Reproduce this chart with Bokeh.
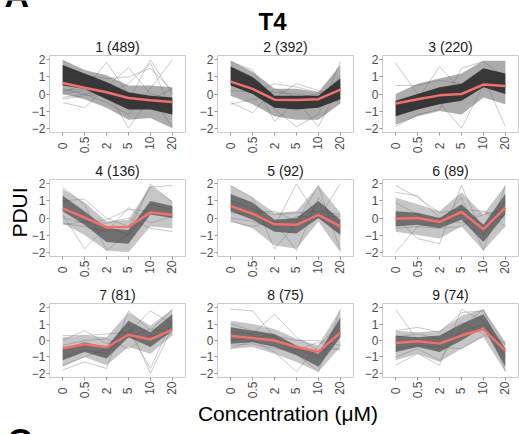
import math
from bokeh.plotting import figure
from bokeh.layouts import column, row
from bokeh.models import Range1d, FixedTicker, Label
from bokeh.embed import file_html
from bokeh.resources import INLINE

# ---------------- data ----------------
concentrations = ["0", "0.5", "2", "5", "10", "20"]
y_ticks = [-2, -1, 0, 1, 2]
y_tick_labels = ["\u22122", "\u22121", "0", "1", "2"]
cluster_ids = [1, 2, 3, 4, 5, 6, 7, 8, 9]
cluster_sizes = [489, 392, 220, 136, 92, 89, 81, 75, 74]

cluster_means = [
    [0.64, 0.37, 0.10, -0.23, -0.37, -0.47],
    [0.72, 0.30, -0.33, -0.35, -0.30, 0.25],
    [-0.55, -0.31, -0.08, 0.00, 0.55, 0.47],
    [0.56, 0.02, -0.54, -0.52, 0.33, 0.17],
    [0.70, 0.25, -0.37, -0.40, 0.18, -0.49],
    [-0.05, 0.00, -0.23, 0.35, -0.66, 0.60],
    [-0.47, -0.23, -0.41, 0.35, 0.06, 0.66],
    [0.27, 0.15, 0.00, -0.40, -0.68, 0.47],
    [-0.15, -0.05, -0.19, 0.30, 0.68, -0.62],
]
core_high = [
    [1.7, 1.2, 0.7, 0.1, -0.1, -0.2],
    [1.6, 1.0, -0.1, -0.1, -0.1, 0.9],
    [-0.4, 0.0, 0.4, 0.6, 1.5, 1.2],
    [1.3, 0.4, -0.6, -0.7, 1.0, 0.7],
    [1.4, 0.9, -0.1, 0.0, 1.0, -0.1],
    [0.4, 0.3, 0.0, 0.8, -0.4, 1.4],
    [-0.5, -0.1, -0.4, 1.2, 0.5, 1.6],
    [0.8, 0.6, 0.4, -0.3, -0.8, 1.4],
    [0.3, 0.2, 0.3, 1.0, 1.6, -0.5],
]
core_low = [
    [0.5, 0.3, -0.3, -0.9, -0.9, -1.2],
    [0.5, 0.0, -0.8, -0.9, -0.8, -0.3],
    [-1.3, -0.9, -0.6, -0.4, 0.4, 0.0],
    [0.4, -0.4, -1.4, -1.5, 0.2, 0.0],
    [0.4, -0.1, -0.8, -0.9, 0.0, -1.0],
    [-0.5, -0.4, -0.6, -0.1, -1.4, 0.2],
    [-1.2, -0.7, -1.1, 0.2, -0.4, 0.6],
    [-0.2, -0.1, -0.4, -0.9, -1.6, 0.2],
    [-0.7, -0.4, -0.7, 0.0, 0.8, -1.6],
]
spread_high = [
    [2.0, 1.4, 1.1, 0.5, 0.5, 0.4],
    [1.95, 1.3, 0.3, 0.3, 0.1, 1.7],
    [0.0, 0.6, 0.9, 1.2, 1.95, 1.95],
    [1.7, 0.9, -0.2, -0.1, 1.9, 1.0],
    [1.9, 1.2, 0.3, 0.4, 1.9, 0.3],
    [1.2, 0.8, 0.4, 1.5, 0.2, 1.9],
    [0.2, 0.3, 0.2, 1.7, 0.9, 1.9],
    [1.2, 1.0, 0.7, 0.1, -0.3, 1.9],
    [0.6, 0.5, 0.6, 1.5, 1.9, -0.1],
]
spread_low = [
    [0.0, -0.3, -0.8, -1.5, -1.4, -2.0],
    [-0.1, -0.6, -1.3, -1.5, -1.5, -0.55],
    [-1.8, -1.3, -1.0, -1.2, -0.2, -0.6],
    [-0.3, -1.0, -1.9, -2.0, -0.5, -0.6],
    [-0.2, -0.6, -1.6, -1.8, -0.2, -2.0],
    [-0.8, -1.0, -1.2, -0.5, -1.9, -0.5],
    [-1.6, -1.0, -1.5, -0.4, -0.8, 0.3],
    [-0.5, -0.4, -0.8, -1.3, -1.9, -0.4],
    [-1.2, -0.8, -1.3, -0.5, 0.2, -1.9],
]
stray_profiles = [
    [[0.2, 0.3, 1.85, 0.0, -0.5, -0.8], [-0.5, -0.8, 0.4, 1.55, 0.0, -0.3],
     [0.0, 0.2, -0.2, -0.4, 2.0, 0.0], [0.3, 0.0, -0.5, -1.2, 0.3, 2.0],
     [-0.3, -0.1, 0.0, 0.6, 1.8, -1.0], [-0.2, 0.0, 0.2, 0.0, -0.3, 0.3],
     [0.1, 0.6, 0.3, -2.0, -0.2, -1.9], [1.0, 1.1, 0.9, 1.0, 1.5, 0.2]],
    [[0.2, 0.1, 0.6, 0.4, 0.1, 0.3], [-0.5, -1.1, 0.3, -0.2, 0.0, 0.4],
     [1.2, 0.8, -1.6, -0.4, -1.9, 0.6], [-0.6, -0.3, -0.2, 0.6, 0.2, -0.5],
     [1.9, 1.4, -0.9, -1.9, -1.2, 1.9], [0.5, 0.4, 0.1, 0.0, -0.2, 1.0]],
    [[1.8, 0.0, -0.2, 0.3, 0.8, 0.6], [0.5, 0.5, 0.8, 0.6, 0.5, 0.3],
     [-1.2, -0.8, -0.5, -2.0, 0.5, 0.5], [-0.8, -0.5, 0.0, 0.5, 1.0, -1.9],
     [-1.0, -0.3, 1.6, 0.2, 0.5, 0.6], [-1.9, -1.2, -0.9, 1.5, 1.9, 1.0]],
    [[-0.3, -0.5, -0.8, 0.6, -0.3, 0.1], [0.2, -1.8, -0.5, -1.0, 0.8, 0.5],
     [1.0, 1.1, 0.0, -0.5, 1.8, 1.9], [-0.4, -0.2, -0.3, 0.0, -0.6, -0.8],
     [1.8, 0.8, -1.9, -0.9, 2.0, 0.9], [0.0, -0.3, -0.1, 0.5, 0.4, 0.2]],
    [[0.3, 0.2, -0.5, 2.0, 0.0, -0.8], [0.0, -0.2, -0.6, 0.1, 0.0, 2.0],
     [1.0, 0.5, 0.2, 0.3, 0.4, 0.2], [1.9, 1.2, -1.8, -0.3, 1.9, -1.9],
     [-0.2, -0.5, -0.2, -1.9, 1.2, -0.5], [0.8, 0.3, 0.4, -0.2, 0.1, 0.1]],
    [[-2.0, -0.5, -0.2, 0.2, -0.4, 0.2], [1.9, 1.2, 0.3, 0.5, 0.4, 0.0],
     [1.5, 1.3, 0.0, -0.3, 0.2, 0.5], [0.0, -1.2, -1.5, 1.9, -1.0, 1.0],
     [-0.6, -0.5, -0.6, -0.5, 0.4, -0.5], [0.9, 0.2, -0.3, 1.2, -1.9, 1.9]],
    [[0.3, 0.3, 0.4, 0.5, 1.8, 1.0], [-1.5, -1.0, -0.5, 1.0, -2.0, 0.8],
     [-1.0, -0.6, -0.8, 0.6, -1.7, 1.2], [0.0, 0.6, -0.2, 0.2, 0.7, 0.5],
     [-1.8, -1.3, -1.7, 1.8, 0.6, 1.9], [-0.3, 0.0, 0.1, -0.5, 0.3, 0.4]],
    [[1.9, 1.8, 0.2, -0.5, -1.0, 0.5], [0.5, 0.4, 1.6, 0.2, -0.6, -0.5],
     [-0.5, 0.0, -0.7, -1.9, -0.3, 1.0], [0.0, 0.2, 0.3, 0.0, 0.0, -0.3],
     [1.0, 0.6, 0.2, -0.8, -1.9, 1.9], [-0.3, -0.2, -0.5, -0.6, -0.1, -0.6]],
    [[1.9, 0.0, -0.3, 0.5, 1.0, -0.5], [-1.5, -0.8, -1.5, 1.9, 1.2, -1.0],
     [0.6, 0.8, 0.5, 1.7, 1.8, -0.3], [-0.5, -0.3, -0.4, -0.5, 0.3, -0.2],
     [-1.0, -0.5, -1.2, 0.8, 1.9, -1.9], [0.2, 0.4, 0.1, 1.1, 0.4, -0.1]],
]

# ---------------- styling ----------------
FONT = "Liberation Sans"
RED = "#F2706A"
positions = list(range(len(concentrations)))


def padded(label):
    # centre short rotated labels like the reference
    return label + "\u2002" if len(label) == 1 else label


def make_panel(k, width, right_border, bottom_border):
    p = figure(width=width, height=22 + 77 + bottom_border,
               x_range=Range1d(-0.6, 5.6), y_range=Range1d(-2.25, 2.25),
               output_backend="svg", toolbar_location=None,
               title=f"{cluster_ids[k]} ({cluster_sizes[k]})",
               min_border_left=21, min_border_right=right_border,
               min_border_top=22, min_border_bottom=bottom_border)
    p.title.align = "center"
    p.title.text_font = FONT
    p.title.text_font_size = "14px"
    p.title.text_font_style = "normal"
    p.title.text_color = "#1a1a1a"
    p.title.standoff = 2
    p.grid.visible = False
    p.outline_line_color = "#cccccc"
    p.outline_line_width = 1
    p.border_fill_color = "white"

    heavy = k < 3
    xs = positions
    p.multi_line(xs=[xs] * len(stray_profiles[k]), ys=stray_profiles[k],
                 line_color="#8a8a8a", line_alpha=0.45, line_width=1)
    p.varea(x=xs, y1=spread_low[k], y2=spread_high[k],
            fill_color="#5a5a5a" if heavy else "#707070",
            fill_alpha=0.5 if heavy else 0.4)
    p.varea(x=xs, y1=core_low[k], y2=core_high[k],
            fill_color="#1e1e1e" if heavy else "#3a3a3a",
            fill_alpha=0.82 if heavy else 0.62)
    p.line(xs, cluster_means[k], line_color=RED, line_width=2.5)

    for ax in (p.xaxis[0], p.yaxis[0]):
        ax.axis_line_color = None
        ax.major_tick_out = 3
        ax.major_tick_in = 0
        ax.minor_tick_out = 0
        ax.minor_tick_in = 0
        ax.major_tick_line_color = "#999999"
        ax.major_label_text_font = FONT
        ax.major_label_text_font_size = "12px"
        ax.major_label_text_color = "#4d4d4d"
        ax.major_label_standoff = 1
    p.xaxis.ticker = FixedTicker(ticks=positions)
    p.xaxis.major_label_overrides = {i: padded(c) for i, c in zip(positions, concentrations)}
    p.xaxis.major_label_orientation = math.pi / 2
    p.yaxis.ticker = FixedTicker(ticks=y_ticks)
    p.yaxis.major_label_overrides = dict(zip(y_ticks, y_tick_labels))
    return p


def blank(w, h):
    f = figure(width=w, height=h, x_range=Range1d(0, w), y_range=Range1d(0, h),
               output_backend="svg", toolbar_location=None,
               min_border_left=0, min_border_right=0,
               min_border_top=0, min_border_bottom=0,
               x_axis_location=None, y_axis_location=None)
    f.outline_line_color = None
    f.grid.visible = False
    f.border_fill_color = "white"
    return f


def add_text(fig, x, y, text, size, bold=False, align="center", angle=0.0):
    fig.add_layout(Label(x=x, y=y, text=text, angle=angle, text_font=FONT,
                         text_font_size=size, text_color="black",
                         text_font_style="bold" if bold else "normal",
                         text_align=align, text_baseline="middle"))


col_widths = [168, 165, 158]
col_right = [11, 8, 1]
panels = [make_panel(k, col_widths[k % 3], col_right[k % 3], 25 if k < 6 else 21)
          for k in range(9)]

header = blank(519, 33)
add_text(header, 4, 39, "A", "34px", bold=True, align="left")
add_text(header, 272, 12.5, "T4", "24px", bold=True)

ylab = blank(28, 368)
add_text(ylab, 18.6, 189, "PDUI", "21px", angle=math.pi / 2)

footer = blank(519, 33)
add_text(footer, 287.5, 21.4, "Concentration (\u03bcM)", "21px")
add_text(footer, 7, -5.4, "C", "34px", bold=True, align="left")

grid = column(row(*panels[0:3]), row(*panels[3:6]), row(*panels[6:9]))
page = column(header, row(ylab, grid), footer)

open("out.html", "w").write(file_html(page, INLINE))
